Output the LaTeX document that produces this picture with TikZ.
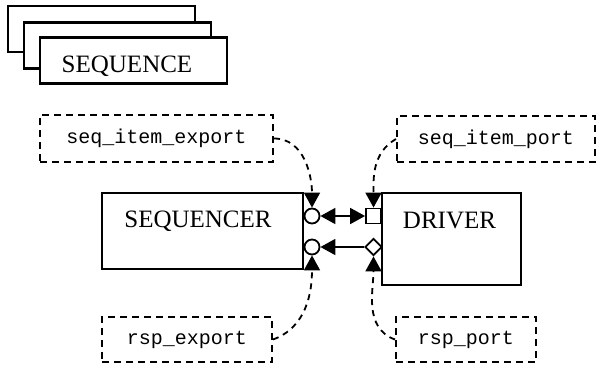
\documentclass[tikz,border=0pt]{standalone}
\usepackage{fontspec}
\setmainfont{Liberation Serif}
\setmonofont{Liberation Mono}
\usetikzlibrary{arrows.meta,shapes.geometric}

\tikzset{
  block/.style={draw, line width=2.8pt, fill=white, inner sep=0pt},
  stackbox/.style={block, minimum width=187, minimum height=46},
  portname/.style={draw, dashed, dash pattern=on 7pt off 5pt, line width=2pt,
                   inner sep=0pt, font=\fontsize{20}{24}\ttfamily},
  port/.style={draw, line width=1.8pt, fill=white, inner sep=0pt},
  bigtip/.tip={Triangle[length=15pt,width=16pt]},
  wire/.style={line width=1.8pt},
  hook/.style={dashed, dash pattern=on 6pt off 5pt, line width=1.8pt, -bigtip}
}

\begin{document}
\begin{tikzpicture}[x=1pt, y=-1pt, font=\fontsize{25}{30}\selectfont]
  \useasboundingbox (0,0) rectangle (597,368);

  % the sequence stack
  \node[stackbox] (seqa) at (101.5,29) {};
  \node[stackbox] (seqb) at (117.5,45.5) {};
  \node[stackbox] (seqc) at (133.5,60.5) {};
  \node[anchor=base] (seqtxt) at (127,72) {SEQUENCE};

  % sequencer and driver
  \node[block, minimum width=201, minimum height=76] (seqr) at (202.5,231) {};
  \node[anchor=base] (seqrtxt) at (198,227) {SEQUENCER};
  \node[block, minimum width=139, minimum height=92] (drv) at (451.5,239) {};
  \node[anchor=base] (drvtxt) at (449.5,228) {DRIVER};

  % ports on the box edges
  \node[port, circle, minimum size=15] (sie) at (312,216) {};
  \node[port, circle, minimum size=15] (rse) at (312,247) {};
  \node[port, rectangle, minimum size=15] (sip) at (373.5,216) {};
  \node[port, diamond, minimum width=17, minimum height=17] (rsp) at (373.5,247) {};

  % port names
  \node[portname, minimum width=233, minimum height=47] (siename) at (156.5,138.5) {seq\_item\_export};
  \node[portname, minimum width=198, minimum height=46] (sipname) at (496,139) {seq\_item\_port};
  \node[portname, minimum width=170, minimum height=45] (rsename) at (187,339.5) {rsp\_export};
  \node[portname, minimum width=140, minimum height=45] (rspname) at (466,339.5) {rsp\_port};

  % connections
  \draw[wire, bigtip-bigtip] (sie) -- (sip);
  \draw[wire, -bigtip] (rsp) -- (rse);

  \draw[hook] (siename.east) to[out=0, in=90] (sie.north);
  \draw[hook] (sipname.west) to[out=210, in=90] (sip.north);
  \draw[hook] (rsename.east) to[out=20, in=-90] (rse.south);
  \draw[hook] (rspname.west) to[out=160, in=-90] (rsp.south);
\end{tikzpicture}
\end{document}
